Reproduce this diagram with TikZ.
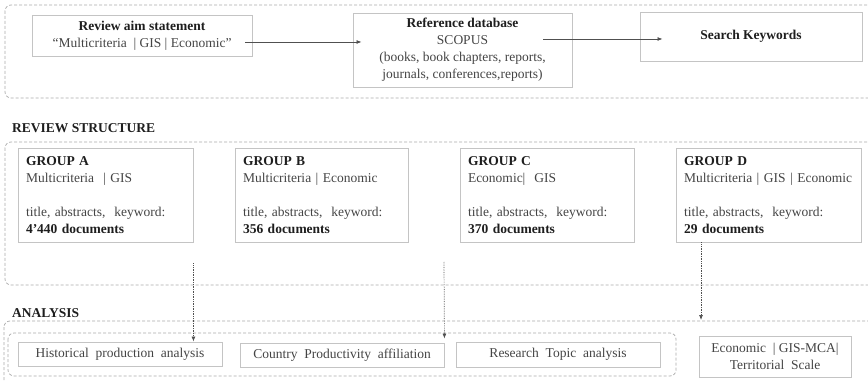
\documentclass[tikz,border=0pt]{standalone}
\usepackage{fontspec}
\setmainfont{Liberation Serif}
\usetikzlibrary{arrows.meta,calc}
\definecolor{txt}{HTML}{444444}
\definecolor{bld}{HTML}{1E1E1E}
\definecolor{boxline}{HTML}{C4C4C4}
\definecolor{dashline}{HTML}{ABABAB}
\definecolor{arr}{HTML}{505050}
\begin{document}
\begin{tikzpicture}[x=1pt,y=-1pt,
  font=\fontsize{13.5}{17}\selectfont, text=txt,
  box/.style={draw=boxline, line width=0.9pt, inner sep=0pt, align=center},
  grp/.style={box, minimum height=94pt, align=left, inner xsep=8pt, inner ysep=0pt},
  region/.style={draw=dashline, dash pattern=on 3pt off 2pt, line width=0.7pt, rounded corners=6pt},
  flow/.style={draw=arr, line width=0.8pt, -{Latex[length=5pt,width=4pt]}},
  drop/.style={draw=arr, line width=0.7pt, densely dotted, -{Latex[length=5pt,width=4pt]}},
  head/.style={font=\fontsize{13.5}{17}\selectfont\bfseries, text=bld, anchor=west, inner sep=0pt}]
\clip (0,0) rectangle (868,382);
% regions
\draw[region] (5,5) rectangle (890,98);
\draw[region] (5,142) rectangle (890,285);
\draw[region] (4,321) rectangle (890,400);
\draw[region] (8,333) rectangle (676,376);
% headings
\node[head] (hrs) at (12,128) {REVIEW STRUCTURE};
\node[head] (han) at (12,313) {ANALYSIS};
% top row
\node[box, minimum width=220pt, minimum height=41pt] (aim) at (142,35.5)
  {\textbf{\color{bld}Review aim statement}\\“Multicriteria \ | GIS | Economic”};
\node[box, minimum width=219pt, minimum height=74pt] (ref) at (462.5,50)
  {\textbf{\color{bld}Reference database}\\SCOPUS\\(books, book chapters, reports,\\journals, conferences,reports)};
\node[box, minimum width=222pt, minimum height=49pt] (search) at (751,36.5)
  {\textbf{\color{bld}Search Keywords}};
\draw[flow] ([xshift=-7pt,yshift=-6.5pt]aim.east) -- ([xshift=9pt,yshift=-6.5pt]aim.east -| ref.west);
\draw[flow] ([xshift=-29pt,yshift=11pt]ref.east) -- ([xshift=23pt,yshift=11pt]ref.east -| search.west);
% groups
\node[grp, text width=159pt] (gA) at (105.5,195)
  {\textbf{\color{bld}GROUP A}\\Multicriteria \ | GIS\\[17pt]title, abstracts, \ keyword:\\\textbf{\color{bld}4’440 documents}};
\node[grp, text width=157pt] (gB) at (321.5,195)
  {\textbf{\color{bld}GROUP B}\\Multicriteria | Economic\\[17pt]title, abstracts, \ keyword:\\\textbf{\color{bld}356 documents}};
\node[grp, text width=158pt] (gC) at (547,195)
  {\textbf{\color{bld}GROUP C}\\Economic| \ GIS\\[17pt]title, abstracts, \ keyword:\\\textbf{\color{bld}370 documents}};
\node[grp, text width=169pt] (gD) at (768.5,195)
  {\textbf{\color{bld}GROUP D}\\\mbox{Multicriteria | GIS | Economic}\\[17pt]title, abstracts, \ keyword:\\\textbf{\color{bld}29 documents}};
% analysis boxes
\node[box, minimum width=204pt, minimum height=24pt] (hist) at (120,354) {Historical \ production \ analysis};
\node[box, minimum width=204pt, minimum height=24pt] (country) at (342,355) {Country \ Productivity \ affiliation};
\node[box, minimum width=204pt, minimum height=25pt] (topic) at (558,354.5) {Research \ Topic \ analysis};
\node[box, minimum width=152pt, minimum height=41pt] (econ) at (775,356.5) {Economic \ | GIS-MCA|\\Territorial \ Scale};
% drops
\coordinate (bsrc) at (444,262);
\coordinate (dtip) at (701,320);
\draw[drop] ([yshift=-21pt]gA.south east) -- (gA.south east |- hist.north);
\draw[drop] (bsrc) -- ([yshift=4pt]country.north east);
\draw[drop] (dtip |- gD.south) -- (dtip);
\end{tikzpicture}
\end{document}
